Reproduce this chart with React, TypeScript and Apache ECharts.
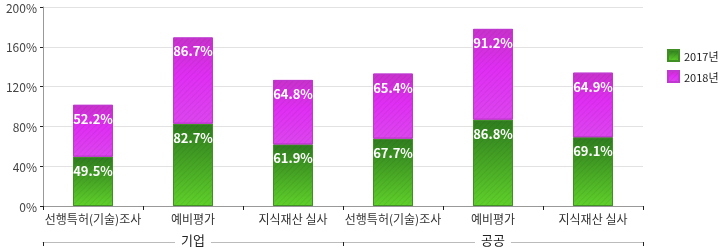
import React, { useEffect, useRef } from "react";
import * as echarts from "echarts";

const categories = ["선행특허(기술)조사", "예비평가", "지식재산 실사", "선행특허(기술)조사", "예비평가", "지식재산 실사"];
const groups = ["기업", "공공"];
const seriesNames = ["2017년", "2018년"];
const values2017 = [49.5, 82.7, 61.9, 67.7, 86.8, 69.1];
const values2018 = [52.2, 86.7, 64.8, 65.4, 91.2, 64.9];
const yTicks = { min: 0, max: 200, interval: 40 };

const FONT = "'Noto Sans CJK KR', 'Noto Sans', sans-serif";

const decal = {
  symbol: "rect",
  dashArrayX: [1, 0],
  dashArrayY: [1, 3],
  rotation: -Math.PI / 4,
  color: "rgba(0,0,0,0.06)",
};

export default function App() {
  const ref = useRef<HTMLDivElement>(null);
  useEffect(() => {
    if (!ref.current) return;
    const chart = echarts.init(ref.current, null, { renderer: "svg" });
    const label = {
      show: true,
      position: "insideTop",
      distance: 7,
      color: "#fff",
      fontSize: 13,
      fontWeight: 600,
      fontFamily: FONT,
      formatter: (p: any) => p.value + "%",
    };
    chart.setOption({
      animation: false,
      textStyle: { fontFamily: FONT },
      grid: { left: 43, right: 77, top: 7, bottom: 44 },
      legend: {
        orient: "vertical",
        left: 662,
        top: 44,
        itemWidth: 11,
        itemHeight: 11,
        itemGap: 8,
        icon: "rect",
        textStyle: { fontSize: 11, color: "#222", fontFamily: FONT },
        data: seriesNames,
      },
      xAxis: [
        {
          type: "category",
          data: categories,
          axisLine: { lineStyle: { color: "#999" } },
          axisTick: { show: true, length: 4, lineStyle: { color: "#222" } },
          axisLabel: { color: "#333", fontSize: 12, margin: 6, interval: 0, fontFamily: FONT },
        },
        {
          type: "category",
          data: groups,
          position: "bottom",
          offset: 36,
          axisLine: { lineStyle: { color: "#bbb" } },
          axisTick: { show: true, length: 4, inside: false, lineStyle: { color: "#222" } },
          axisLabel: {
            color: "#222",
            fontSize: 13,
            margin: -9,
            backgroundColor: "#fff",
            padding: [0, 6],
            fontFamily: FONT,
          },
        },
      ],
      yAxis: {
        type: "value",
        min: yTicks.min,
        max: yTicks.max,
        interval: yTicks.interval,
        axisLine: { show: true, lineStyle: { color: "#999" } },
        axisTick: { show: true, length: 3, lineStyle: { color: "#222" } },
        axisLabel: { color: "#444", fontSize: 12, margin: 6, formatter: "{value}%", fontFamily: FONT },
        splitLine: { lineStyle: { color: "#e2e2e2" } },
      },
      series: [
        {
          name: seriesNames[0],
          type: "bar",
          stack: "total",
          barWidth: 40,
          data: values2017,
          label,
          itemStyle: {
            color: new echarts.graphic.LinearGradient(0, 0, 0, 1, [
              { offset: 0, color: "#2f7d1f" },
              { offset: 1, color: "#5fd02a" },
            ]),
            borderColor: "#3f8f25",
            borderWidth: 1,
            decal,
          },
        },
        {
          name: seriesNames[1],
          type: "bar",
          stack: "total",
          barWidth: 40,
          data: values2018,
          label,
          itemStyle: {
            color: new echarts.graphic.LinearGradient(0, 0, 0, 1, [
              { offset: 0, color: "#c832cc" },
              { offset: 0.45, color: "#e02ef4" },
              { offset: 1, color: "#dc46ee" },
            ]),
            borderColor: "#c038d0",
            borderWidth: 1,
            decal,
          },
        },
      ],
    });
    return () => chart.dispose();
  }, []);
  return <div ref={ref} style={{ position: "fixed", left: 0, top: 0, width: 720, height: 250 }} />;
}
